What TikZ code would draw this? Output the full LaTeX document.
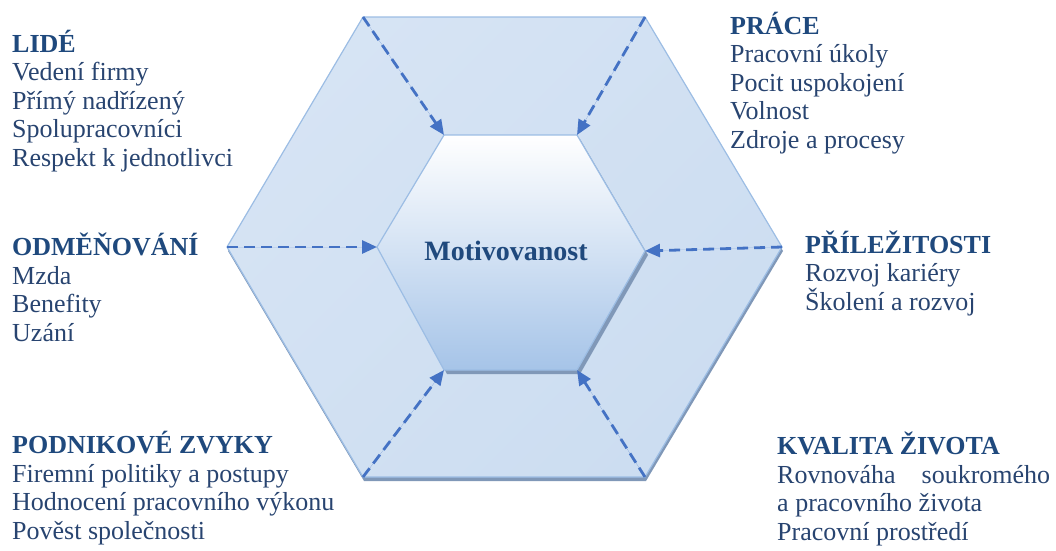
\documentclass[tikz,border=0pt]{standalone}
\usepackage{fontspec}
\setmainfont{Liberation Serif}
\usetikzlibrary{arrows.meta}
\definecolor{hexedge}{RGB}{156,189,228}
\definecolor{hexlight}{RGB}{204,221,241}
\definecolor{hexdark}{RGB}{166,196,232}
\definecolor{hexmid}{RGB}{158,189,228}
\definecolor{hexshadow}{RGB}{128,152,184}
\definecolor{arrowblue}{RGB}{68,114,196}
\definecolor{headblue}{RGB}{31,73,125}
\definecolor{itemblue}{RGB}{40,68,112}
\newcommand{\hdr}[1]{\textcolor{headblue}{\textbf{#1}}}

\begin{document}
\begin{tikzpicture}[x=1pt,y=-1pt,>={Triangle[length=15pt,width=13pt]},
      hx/.style={draw=hexedge,line width=1.2pt,line join=round},
      sh/.style={fill=hexshadow,draw=none},
      da/.style={->,draw=arrowblue,fill=arrowblue,line width=2.8pt,dash pattern=on 11pt off 6pt},
      grp/.style={anchor=base west,align=left,inner sep=0pt,text=itemblue,
        font=\fontsize{26}{28.5}\selectfont}]
    \useasboundingbox (0,0) rectangle (1056,550);
    % outer corners
    \coordinate (o1) at (363,17);
    \coordinate (o2) at (645,17);
    \coordinate (o3) at (782,247);
    \coordinate (o4) at (645,477);
    \coordinate (o5) at (363,477);
    \coordinate (o6) at (227,247);
    % inner corners
    \coordinate (i1) at (444,135);
    \coordinate (i2) at (577,135);
    \coordinate (i3) at (645,251);
    \coordinate (i4) at (577,370);
    \coordinate (i5) at (444,370);
    \coordinate (i6) at (377,247);
    % outer ring
    \fill[sh,transform canvas={shift={(1,4)}}] (o1)--(o2)--(o3)--(o4)--(o5)--(o6)--cycle;
    \shade[hx,top color=hexlight!80!white,middle color=hexmid,bottom color=hexlight,shading angle=45]
      (o1)--(o2)--(o3)--(o4)--(o5)--(o6)--cycle;
    % inner hexagon
    \fill[sh,transform canvas={shift={(3,4)}}] (i1)--(i2)--(i3)--(i4)--(i5)--(i6)--cycle;
    \shade[hx,top color=white,bottom color=hexdark]
      (i1)--(i2)--(i3)--(i4)--(i5)--(i6)--cycle;
    \node[font=\fontsize{28}{30}\selectfont\bfseries,text=headblue,anchor=base] (mot) at (506,260) {Motivovanost};
    \draw[da] (o1)--(i1);
    \draw[da] (o2)--(i2);
    \draw[da] (o3)--(i3);
    \draw[da] (o4)--(i4);
    \draw[da] (o5)--(i5);
    \draw[da] (o6)--(i6);
    % the six groups, placed by the baseline of their last line
    \node[grp] (lide) at (12,166) {\hdr{LIDÉ}\\Vedení firmy\\Přímý nadřízený\\Spolupracovníci\\Respekt k jednotlivci};
    \node[grp] (odm) at (12,341) {\hdr{ODMĚŇOVÁNÍ}\\Mzda\\Benefity\\Uzání};
    \node[grp] (zvyky) at (12,539) {\hdr{PODNIKOVÉ ZVYKY}\\Firemní politiky a postupy\\Hodnocení pracovního výkonu\\Pověst společnosti};
    \node[grp] (prace) at (730,148) {\hdr{PRÁCE}\\Pracovní úkoly\\Pocit uspokojení\\Volnost\\Zdroje a procesy};
    \node[grp] (prilez) at (805,310) {\hdr{PŘÍLEŽITOSTI}\\Rozvoj kariéry\\Školení a rozvoj};
    \node[grp] (kval) at (777,540) {\hdr{KVALITA ŽIVOTA}\\\hbox to 273pt{Rovnováha\hfill soukromého}\\a pracovního života\\Pracovní prostředí};
  \end{tikzpicture}
\end{document}
